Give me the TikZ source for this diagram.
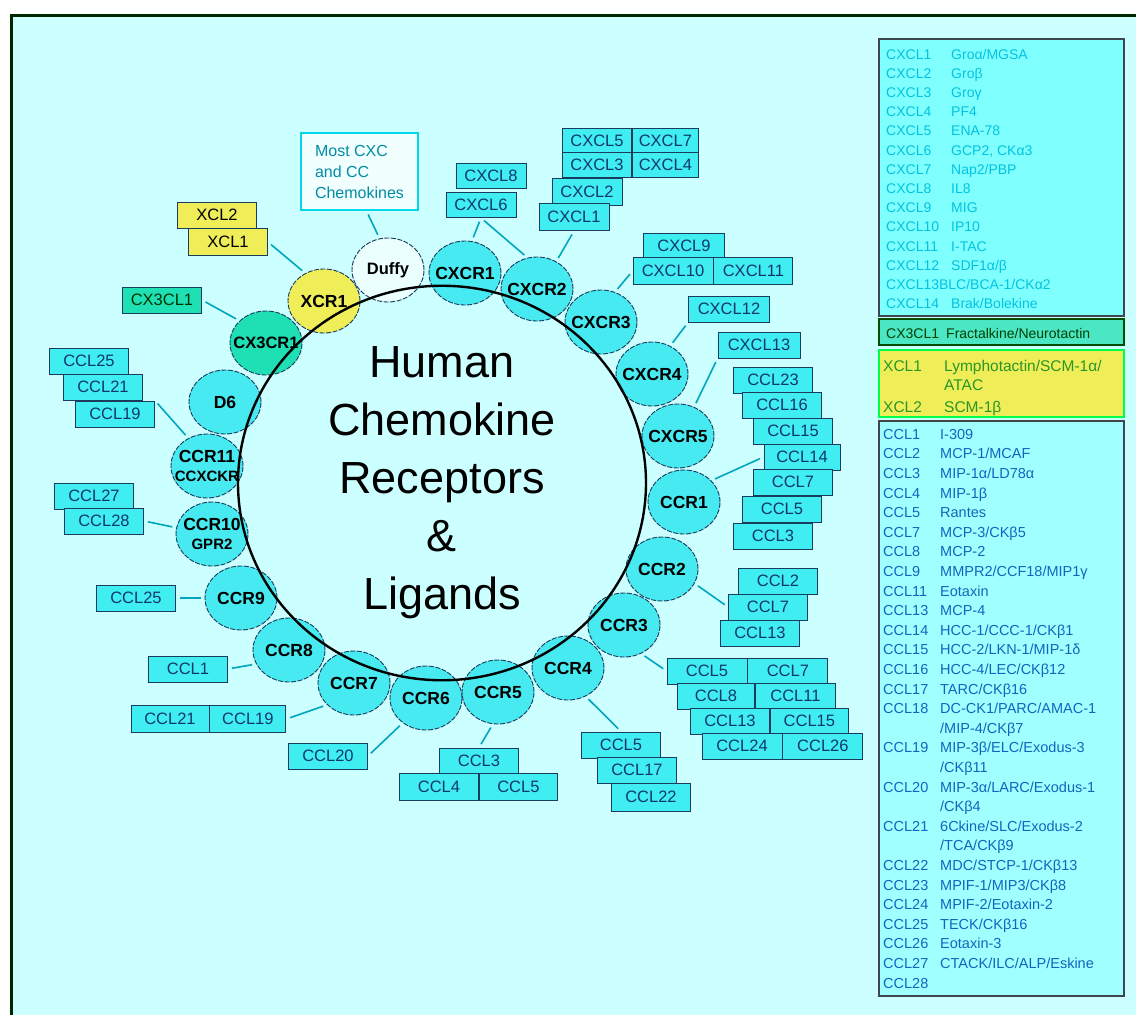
\documentclass[tikz,border=0pt]{standalone}
\usepackage{fontspec}
\setmainfont{Liberation Sans}
\usetikzlibrary{positioning,shapes.geometric}
\definecolor{bgcyan}{RGB}{204,255,255}
\definecolor{rcyan}{RGB}{70,234,240}
\definecolor{lcyan}{RGB}{64,238,242}
\definecolor{rline}{RGB}{25,60,95}
\definecolor{lnk}{RGB}{0,165,190}
\definecolor{xyellow}{RGB}{240,238,88}
\definecolor{xgreen}{RGB}{30,224,180}
\definecolor{dufwhite}{RGB}{236,255,255}
\definecolor{labtext}{RGB}{16,56,110}
\definecolor{cxbox}{RGB}{128,255,255}
\definecolor{cxtext}{RGB}{0,195,225}
\definecolor{ccbox}{RGB}{160,255,255}
\definecolor{cctext}{RGB}{20,100,190}
\definecolor{xltext}{RGB}{40,150,40}
\definecolor{mosttext}{RGB}{0,140,165}
\definecolor{mostline}{RGB}{0,215,232}
\definecolor{mostfill}{RGB}{242,255,255}

\begin{document}
\begin{tikzpicture}[x=1pt,y=-1pt,
  rec/.style={ellipse,draw=rline,dash pattern=on 5pt off 1.5pt,line width=0.9pt,fill=rcyan,
    minimum width=72pt,minimum height=64pt,inner xsep=-10pt,inner ysep=-6pt,align=center,
    font=\fontsize{17.5}{19}\selectfont\bfseries},
  lig/.style={draw=rline,line width=0.9pt,fill=lcyan,text=labtext,minimum width=79pt,
    minimum height=26pt,inner sep=0pt,font=\fontsize{16.5}{18}\selectfont},
  ligs/.style={lig,minimum width=70pt,minimum height=25pt},
  link/.style={draw=lnk,line width=1.6pt,shorten <=4pt,shorten >=4pt},
  cxrow/.style={anchor=west,inner sep=0pt,text height=10pt,text depth=0pt,text=cxtext,
    font=\fontsize{14}{16}\selectfont},
  ccrow/.style={anchor=west,inner sep=0pt,text height=10.4pt,text depth=0pt,text=cctext,
    font=\fontsize{14.5}{16}\selectfont},
  xlrow/.style={anchor=west,inner sep=0pt,text height=11pt,text depth=0pt,text=xltext,
    font=\fontsize{15.5}{17}\selectfont},
]
\useasboundingbox (0,0) rectangle (1136,1015);
\fill[bgcyan] (10,15) rectangle (1136,1015);
\draw[line width=3pt,black!85!green] (11,1015) -- (11,15) -- (1136,15);

% receptors round the core
\node[rec,fill=xyellow] (xcr1) at (324,301) {XCR1};
\node[rec,fill=dufwhite,font=\fontsize{16.5}{19}\selectfont\bfseries] (duffy) at (388,270) {Duffy};
\node[rec] (cxcr1) at (465,273) {CXCR1};
\node[rec] (cxcr2) at (537,289) {CXCR2};
\node[rec] (cxcr3) at (601,322) {CXCR3};
\node[rec] (cxcr4) at (652,374) {CXCR4};
\node[rec] (cxcr5) at (678,436) {CXCR5};
\node[rec] (ccr1) at (684,502) {CCR1};
\node[rec] (ccr2) at (662,569) {CCR2};
\node[rec] (ccr3) at (624,625) {CCR3};
\node[rec] (ccr4) at (568,668) {CCR4};
\node[rec] (ccr5) at (498,692) {CCR5};
\node[rec] (ccr6) at (426,698) {CCR6};
\node[rec] (ccr7) at (354,683) {CCR7};
\node[rec] (ccr8) at (289,650) {CCR8};
\node[rec] (ccr9) at (241,598) {CCR9};
\node[rec] (ccr10) at (212,534) {CCR10\\{\fontsize{15}{19}\selectfont GPR2}};
\node[rec] (ccr11) at (207,466) {CCR11\\{\fontsize{15}{19}\selectfont CCXCKR}};
\node[rec] (d6) at (225,402) {D6};
\node[rec,fill=xgreen,font=\fontsize{16.5}{19}\selectfont\bfseries] (cx3cr1) at (266,343) {CX3CR1};

\node[ellipse,draw,line width=2.4pt,minimum width=408pt,minimum height=360pt,align=center,
  font=\fontsize{45}{58}\selectfont] (core) at (442,483) {Human\\Chemokine\\Receptors\\\&\\Ligands};

\node[draw=mostline,line width=1.8pt,fill=mostfill,text=mosttext,align=left,minimum width=117pt,
  minimum height=77pt,font=\fontsize{16}{21}\selectfont] (most) at (359.5,171.5) {Most CXC\\and CC\\Chemokines};

% ligands
\node[lig,fill=xyellow,text=black] (xcl2) at (217,215) {XCL2};
\node[lig,fill=xyellow,text=black,minimum height=27pt] (xcl1) at (228,242) {XCL1};
\node[lig,fill=xgreen,text=black!80!green] (cx3cl1) at (162,300) {CX3CL1};

\node[ligs] (cxcl8) at (491,176) {CXCL8};
\node[ligs] (cxcl6) at (481,205) {CXCL6};
\node[ligs,minimum width=69pt] (cxcl5) at (597,141) {CXCL5};
\node[ligs,minimum width=66pt,right=0pt of cxcl5] (cxcl7) {CXCL7};
\node[ligs,minimum width=69pt] (cxcl3) at (597,165) {CXCL3};
\node[ligs,minimum width=66pt,right=0pt of cxcl3] (cxcl4) {CXCL4};
\node[ligs,minimum height=27pt] (cxcl2) at (587,192) {CXCL2};
\node[ligs,minimum height=27pt] (cxcl1) at (574,217) {CXCL1};
\node[lig,minimum width=81pt] (cxcl9) at (684,246) {CXCL9};
\node[lig,minimum width=80pt,minimum height=27pt] (cxcl10) at (673,271) {CXCL10};
\node[lig,minimum height=27pt,right=0pt of cxcl10] (cxcl11) {CXCL11};
\node[lig,minimum width=81pt] (cxcl12) at (729,309) {CXCL12};
\node[lig,minimum width=82pt] (cxcl13) at (759,345) {CXCL13};

\node[lig] (ccl23a) at (773,380) {CCL23};
\node[lig] (ccl16a) at (782,405) {CCL16};
\node[lig] (ccl15a) at (793,431) {CCL15};
\node[lig,minimum width=76pt] (ccl14a) at (802,457) {CCL14};
\node[lig] (ccl7a) at (793,482) {CCL7};
\node[lig] (ccl5a) at (782,509) {CCL5};
\node[lig] (ccl3a) at (773,536) {CCL3};

\node[lig] (ccl2b) at (778,581) {CCL2};
\node[lig] (ccl7b) at (768,607) {CCL7};
\node[lig] (ccl13b) at (760,633) {CCL13};

\node[lig,minimum width=80pt] (ccl5c) at (707,671) {CCL5};
\node[lig,minimum width=80pt,right=0pt of ccl5c] (ccl7c) {CCL7};
\node[lig,minimum width=77pt] (ccl8c) at (716,696) {CCL8};
\node[lig,minimum width=80pt,right=0pt of ccl8c] (ccl11c) {CCL11};
\node[lig] (ccl13c) at (730,721) {CCL13};
\node[lig,minimum width=78pt,right=0pt of ccl13c] (ccl15c) {CCL15};
\node[lig,minimum width=80pt] (ccl24c) at (742,746) {CCL24};
\node[lig,minimum width=80pt,right=0pt of ccl24c] (ccl26c) {CCL26};

\node[lig] (ccl5d) at (621,745) {CCL5};
\node[lig] (ccl17d) at (637,770) {CCL17};
\node[lig,minimum height=28pt] (ccl22d) at (651,797) {CCL22};

\node[lig] (ccl3e) at (479,761) {CCL3};
\node[lig,minimum height=27pt] (ccl4e) at (439,787) {CCL4};
\node[lig,minimum width=78pt,minimum height=27pt,right=0pt of ccl4e] (ccl5e) {CCL5};

\node[lig] (ccl20f) at (328,756) {CCL20};
\node[lig,minimum width=78pt,minimum height=27pt] (ccl21g) at (170,719) {CCL21};
\node[lig,minimum width=76pt,minimum height=27pt,right=0pt of ccl21g] (ccl19g) {CCL19};
\node[lig] (ccl1h) at (188,669) {CCL1};
\node[lig] (ccl25i) at (136,598) {CCL25};
\node[lig] (ccl27j) at (94,496) {CCL27};
\node[lig] (ccl28j) at (104,521) {CCL28};
\node[lig] (ccl25k) at (89,361) {CCL25};
\node[lig] (ccl21k) at (103,387) {CCL21};
\node[lig] (ccl19k) at (115,414) {CCL19};

% connectors
\draw[link] (most.-80) -- (duffy.105);
\draw[link] (xcl1.east) -- (xcr1.124);
\draw[link] (cx3cl1.east) -- (cx3cr1.140);
\draw[link] (ccl19k.north east) -- (ccr11.124);
\draw[link] (ccl28j.east) -- (ccr10.170);
\draw[link] (ccl25i.east) -- (ccr9.west);
\draw[link] (ccl1h.east) -- (ccr8.203);
\draw[link] (ccl19g.east) -- (ccr7.219);
\draw[link] (ccl20f.east) -- (ccr6.227);
\draw[link] (ccl3e.north) -- (ccr5.261);
\draw[link] (ccr4.302) -- (ccl5d.north);
\draw[link] (ccr3.301) -- (ccl5c.west);
\draw[link] (ccr2.336) -- (ccl7b.west);
\draw[link] (ccr1.38) -- (ccl14a.west);
\draw[link] (cxcr5.61) -- (cxcl13.south west);
\draw[link] (cxcr4.57) -- (cxcl12.south west);
\draw[link] (cxcr3.65) -- (cxcl10.west);
\draw[link] (cxcr2.55) -- (cxcl1.south);
\draw[link] (cxcr1.78) -- (cxcl6.south);
\draw[link] (cxcr2.107) -- (cxcl6.south);

% legend
\draw[line width=1.5pt,fill=cxbox,draw=black!80!cyan] (879,39) rectangle (1124,316);
\foreach \n/\d [count=\i] in {CXCL1/{Groα/MGSA},CXCL2/Groβ,CXCL3/Groγ,CXCL4/PF4,CXCL5/ENA-78,
    CXCL6/{GCP2, CKα3},CXCL7/{Nap2/PBP},CXCL8/IL8,CXCL9/MIG,CXCL10/IP10,CXCL11/I-TAC,
    CXCL12/{SDF1α/β},{CXCL13BLC/BCA-1/CKα2}/{},CXCL14/{Brak/Bolekine}}{
  \node[cxrow] (cxn\i) at (886,{54+19.2*(\i-1)}) {\n};
  \node[cxrow] (cxd\i) at (951,{54+19.2*(\i-1)}) {\d};
}
\draw[line width=1.5pt,fill=xgreen!80!white,draw=black!70!green] (879,319) rectangle (1124,345);
\node[cxrow,text=black!75!green] (fkn) at (886,333) {CX3CL1};
\node[cxrow,text=black!75!green] (fkd) at (946,333) {Fractalkine/Neurotactin};
\draw[line width=2pt,fill=xyellow,draw=green!70!cyan] (879,350) rectangle (1124,417);
\node[xlrow] (xl1n) at (883,366) {XCL1};
\node[xlrow] (xl1d) at (944,366) {Lymphotactin/SCM-1α/};
\node[xlrow] (xl1e) at (944,385) {ATAC};
\node[xlrow] (xl2n) at (883,407) {XCL2};
\node[xlrow] (xl2d) at (944,407) {SCM-1β};
\draw[line width=1.5pt,fill=ccbox,draw=black!80!cyan] (879,421) rectangle (1124,996);
\foreach \n/\d [count=\i] in {CCL1/I-309,CCL2/{MCP-1/MCAF},CCL3/{MIP-1α/LD78α},CCL4/MIP-1β,
    CCL5/Rantes,CCL7/{MCP-3/CKβ5},CCL8/MCP-2,CCL9/{MMPR2/CCF18/MIP1γ},CCL11/Eotaxin,
    CCL13/MCP-4,CCL14/{HCC-1/CCC-1/CKβ1},CCL15/{HCC-2/LKN-1/MIP-1δ},CCL16/{HCC-4/LEC/CKβ12},
    CCL17/{TARC/CKβ16},CCL18/{DC-CK1/PARC/AMAC-1},{}/{/MIP-4/CKβ7},
    CCL19/{MIP-3β/ELC/Exodus-3},{}/{/CKβ11},CCL20/{MIP-3α/LARC/Exodus-1},{}/{/CKβ4},
    CCL21/{6Ckine/SLC/Exodus-2},{}/{/TCA/CKβ9},CCL22/{MDC/STCP-1/CKβ13},
    CCL23/{MPIF-1/MIP3/CKβ8},CCL24/{MPIF-2/Eotaxin-2},CCL25/{TECK/CKβ16},CCL26/Eotaxin-3,
    CCL27/{CTACK/ILC/ALP/Eskine},CCL28/{}}{
  \node[ccrow] (ccn\i) at (883,{434+19.6*(\i-1)}) {\n};
  \node[ccrow] (ccd\i) at (940,{434+19.6*(\i-1)}) {\d};
}
\end{tikzpicture}
\end{document}
